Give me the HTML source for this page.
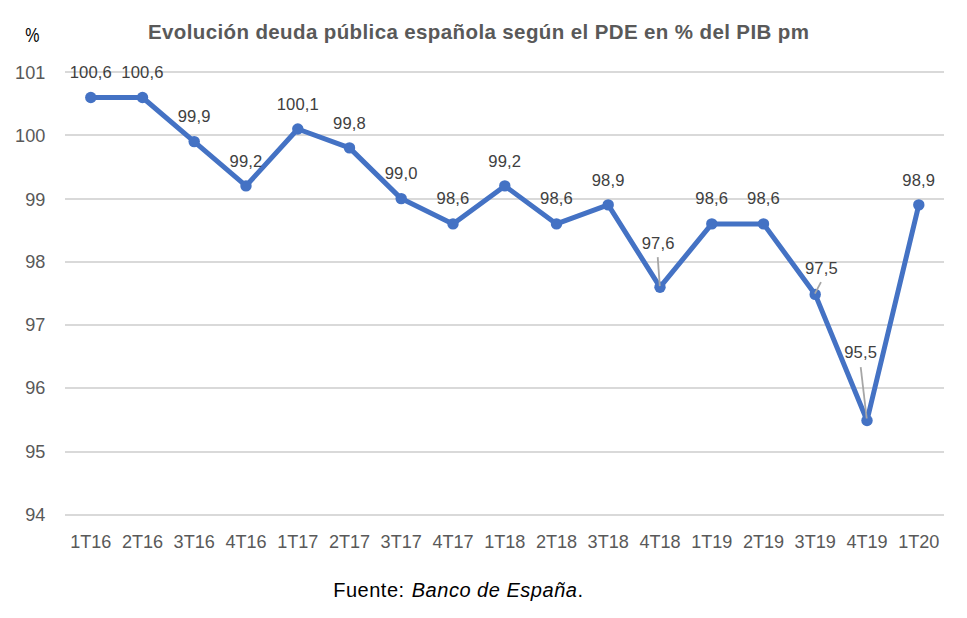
<!DOCTYPE html>
<html><head><meta charset="utf-8"><title>Deuda</title>
<style>
html,body{margin:0;padding:0;background:#fff;}
body{width:967px;height:618px;overflow:hidden;font-family:"Liberation Sans",sans-serif;}
svg{display:block;font-family:"Liberation Sans",sans-serif;}
.ax{font-size:18.1px;fill:#595959;}
.dl{font-size:16.6px;fill:#404040;letter-spacing:0.15px;}
.ti{font-size:20.5px;font-weight:bold;fill:#595959;letter-spacing:0.385px;}
.ft{font-size:20px;fill:#000;letter-spacing:0.52px;}
</style></head><body>
<svg width="967" height="618" viewBox="0 0 967 618">
<rect width="967" height="618" fill="#fff"/>
<line x1="65.0" x2="944.0" y1="72" y2="72" stroke="#D9D9D9" stroke-width="2"/>
<line x1="65.0" x2="944.0" y1="135" y2="135" stroke="#D9D9D9" stroke-width="2"/>
<line x1="65.0" x2="944.0" y1="199" y2="199" stroke="#D9D9D9" stroke-width="2"/>
<line x1="65.0" x2="944.0" y1="262" y2="262" stroke="#D9D9D9" stroke-width="2"/>
<line x1="65.0" x2="944.0" y1="325" y2="325" stroke="#D9D9D9" stroke-width="2"/>
<line x1="65.0" x2="944.0" y1="388" y2="388" stroke="#D9D9D9" stroke-width="2"/>
<line x1="65.0" x2="944.0" y1="452" y2="452" stroke="#D9D9D9" stroke-width="2"/>
<line x1="65.0" x2="944.0" y1="515" y2="515" stroke="#D9D9D9" stroke-width="2"/>
<text class="ax" x="45.3" y="78.8" text-anchor="end">101</text>
<text class="ax" x="45.3" y="141.7" text-anchor="end">100</text>
<text class="ax" x="45.3" y="205.5" text-anchor="end">99</text>
<text class="ax" x="45.3" y="268.4" text-anchor="end">98</text>
<text class="ax" x="45.3" y="331.3" text-anchor="end">97</text>
<text class="ax" x="45.3" y="394.2" text-anchor="end">96</text>
<text class="ax" x="45.3" y="458.0" text-anchor="end">95</text>
<text class="ax" x="45.3" y="520.9" text-anchor="end">94</text>
<text class="ft" style="font-size:19.5px;letter-spacing:0" transform="translate(32.3,41.8) scale(0.82,1)" text-anchor="middle">%</text>
<text class="ax" x="90.8" y="548" text-anchor="middle">1T16</text>
<text class="ax" x="142.5" y="548" text-anchor="middle">2T16</text>
<text class="ax" x="194.2" y="548" text-anchor="middle">3T16</text>
<text class="ax" x="246.0" y="548" text-anchor="middle">4T16</text>
<text class="ax" x="297.8" y="548" text-anchor="middle">1T17</text>
<text class="ax" x="349.5" y="548" text-anchor="middle">2T17</text>
<text class="ax" x="401.2" y="548" text-anchor="middle">3T17</text>
<text class="ax" x="453.0" y="548" text-anchor="middle">4T17</text>
<text class="ax" x="504.8" y="548" text-anchor="middle">1T18</text>
<text class="ax" x="556.5" y="548" text-anchor="middle">2T18</text>
<text class="ax" x="608.2" y="548" text-anchor="middle">3T18</text>
<text class="ax" x="660.0" y="548" text-anchor="middle">4T18</text>
<text class="ax" x="711.8" y="548" text-anchor="middle">1T19</text>
<text class="ax" x="763.5" y="548" text-anchor="middle">2T19</text>
<text class="ax" x="815.2" y="548" text-anchor="middle">3T19</text>
<text class="ax" x="867.0" y="548" text-anchor="middle">4T19</text>
<text class="ax" x="918.8" y="548" text-anchor="middle">1T20</text>
<text class="ti" x="478.6" y="39.2" text-anchor="middle">Evolución deuda pública española según el PDE en % del PIB pm</text>
<polyline points="90.8,97.5 142.5,97.5 194.2,141.6 246.0,185.9 297.8,129.0 349.5,147.9 401.2,198.6 453.0,223.9 504.8,185.9 556.5,223.9 608.2,204.9 660.0,287.2 711.8,223.9 763.5,223.9 815.2,294.4 867.0,420.5 918.8,204.9" fill="none" stroke="#4472C4" stroke-width="5" stroke-linejoin="round" stroke-linecap="round"/>
<circle cx="90.8" cy="97.5" r="5.7" fill="#4472C4"/>
<circle cx="142.5" cy="97.5" r="5.7" fill="#4472C4"/>
<circle cx="194.2" cy="141.6" r="5.7" fill="#4472C4"/>
<circle cx="246.0" cy="185.9" r="5.7" fill="#4472C4"/>
<circle cx="297.8" cy="129.0" r="5.7" fill="#4472C4"/>
<circle cx="349.5" cy="147.9" r="5.7" fill="#4472C4"/>
<circle cx="401.2" cy="198.6" r="5.7" fill="#4472C4"/>
<circle cx="453.0" cy="223.9" r="5.7" fill="#4472C4"/>
<circle cx="504.8" cy="185.9" r="5.7" fill="#4472C4"/>
<circle cx="556.5" cy="223.9" r="5.7" fill="#4472C4"/>
<circle cx="608.2" cy="204.9" r="5.7" fill="#4472C4"/>
<circle cx="660.0" cy="287.2" r="5.7" fill="#4472C4"/>
<circle cx="711.8" cy="223.9" r="5.7" fill="#4472C4"/>
<circle cx="763.5" cy="223.9" r="5.7" fill="#4472C4"/>
<circle cx="815.2" cy="294.4" r="5.7" fill="#4472C4"/>
<circle cx="867.0" cy="420.5" r="5.7" fill="#4472C4"/>
<circle cx="918.8" cy="204.9" r="5.7" fill="#4472C4"/>
<line x1="657.7" y1="257.1" x2="659.8" y2="286.1" stroke="#A6A6A6" stroke-width="1.8"/>
<line x1="821.0" y1="282.1" x2="814.9" y2="293.6" stroke="#A6A6A6" stroke-width="1.8"/>
<line x1="860.7" y1="367.1" x2="866.7" y2="418.5" stroke="#A6A6A6" stroke-width="1.8"/>
<text class="dl" x="90.8" y="78.1" text-anchor="middle">100,6</text>
<text class="dl" x="142.5" y="78.1" text-anchor="middle">100,6</text>
<text class="dl" x="194.2" y="121.7" text-anchor="middle">99,9</text>
<text class="dl" x="246.0" y="166.5" text-anchor="middle">99,2</text>
<text class="dl" x="297.8" y="109.7" text-anchor="middle">100,1</text>
<text class="dl" x="349.5" y="128.7" text-anchor="middle">99,8</text>
<text class="dl" x="401.2" y="178.8" text-anchor="middle">99,0</text>
<text class="dl" x="453.0" y="203.6" text-anchor="middle">98,6</text>
<text class="dl" x="504.8" y="166.7" text-anchor="middle">99,2</text>
<text class="dl" x="556.5" y="203.6" text-anchor="middle">98,6</text>
<text class="dl" x="608.2" y="185.7" text-anchor="middle">98,9</text>
<text class="dl" x="658.1" y="248.7" text-anchor="middle">97,6</text>
<text class="dl" x="711.8" y="203.7" text-anchor="middle">98,6</text>
<text class="dl" x="763.5" y="203.7" text-anchor="middle">98,6</text>
<text class="dl" x="821.4" y="273.6" text-anchor="middle">97,5</text>
<text class="dl" x="860.6" y="358.4" text-anchor="middle">95,5</text>
<text class="dl" x="918.8" y="185.9" text-anchor="middle">98,9</text>
<text class="ft" x="333.2" y="596.9">Fuente: <tspan font-style="italic" dx="1">Banco de España</tspan>.</text>
</svg></body></html>
